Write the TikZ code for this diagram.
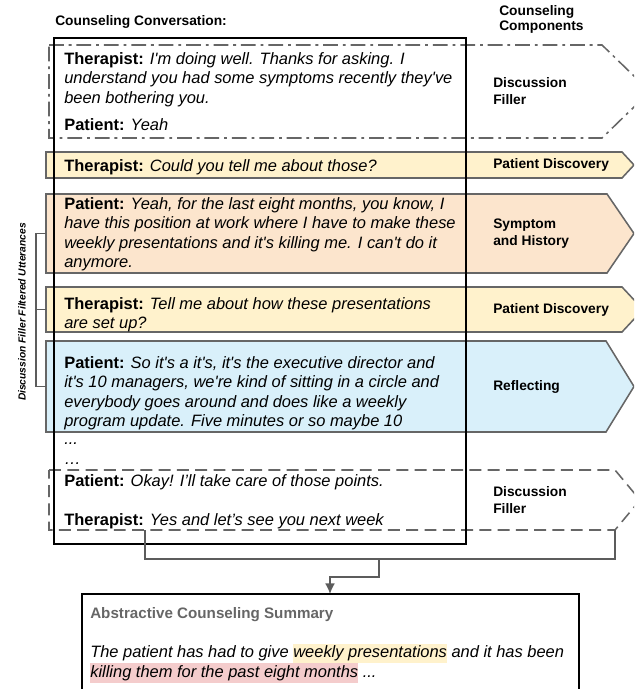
\documentclass[tikz,border=0pt]{standalone}
\usepackage{fontspec}
\newfontfamily\lsans{Liberation Sans}
\usetikzlibrary{arrows.meta}
\definecolor{linegray}{HTML}{666666}
\definecolor{discovfill}{HTML}{FFF2CC}
\definecolor{sympfill}{HTML}{FCE5CD}
\definecolor{reflfill}{HTML}{D9F0FA}
\definecolor{hlpink}{HTML}{F4CCCC}
\newcommand\uttfont{\lsans\itshape\fontsize{11.7}{13.9}\selectfont}
\newcommand\compfont{\lsans\bfseries\fontsize{9.8}{12}\selectfont}
\newcommand\therap{\textup{\textbf{Therapist:}}}
\newcommand\patient{\textup{\textbf{Patient:}}}
\newcommand\hlword[2]{{\fboxsep=0pt\colorbox{#1}{\strut #2}}}
\tikzset{
  seg/.style={draw=linegray, line width=1.1pt},
  filler/.style={seg, dash pattern=on 10.5pt off 3.5pt on 2pt off 3.5pt},
  fillerend/.style={seg, dash pattern=on 8.5pt off 4.5pt},
  discov/.style={seg, fill=discovfill},
  symp/.style={seg, fill=sympfill},
  refl/.style={seg, fill=reflfill},
  utt/.style={anchor=north west, inner sep=0pt, align=left, font=\uttfont},
  comp/.style={anchor=west, inner sep=0pt, align=left, font=\compfont},
  head/.style={anchor=west, inner sep=0pt, align=left, font=\lsans\bfseries\fontsize{9.8}{10.7}\selectfont},
  box/.style={draw=black, line width=1.4pt},
  connect/.style={draw=linegray!90!black, line width=1.1pt}
}

\begin{document}
\begin{tikzpicture}[x=0.025cm, y=-0.025cm]
  \useasboundingbox (0,0) rectangle (634,689);
  \clip (0,0) rectangle (634,689);
  % one component shape per segment
  \foreach \nm/\lft/\yt/\yb/\cx/\tip/\sty/\lab in {
      fa/49/45/138/602/650/filler/{Discussion\\Filler},
      pd1/46/152/178/622/634/discov/{Patient Discovery},
      sh/46/194/273/607/634/symp/{Symptom\\and History},
      pd2/46/287/332/622/643/discov/{Patient Discovery},
      rf/46/341/432/606/634/refl/{Reflecting},
      fb/49/470/530/615/640/fillerend/{Discussion\\Filler}} {
    \draw[\sty] (\lft,\yt) -- (\cx,\yt) -- (\tip,{(\yt+\yb)/2}) -- (\cx,\yb) -- (\lft,\yb) -- cycle;
    \coordinate (\nm-w) at (\lft,{(\yt+\yb)/2});
    \coordinate (\nm-se) at (\cx,\yb);
    \node[comp] (\nm-lab) at (493,{(\yt+\yb)/2}) {\lab};
  }
  \node[head] (conv) at (55,22) {Counseling Conversation:};
  \node[head] (compo) at (499,19.5) {Counseling\\Components};
  % utterances
  \node[utt] (u1) at (64,52) {\therap{} I'm doing well. Thanks for asking. I\\understand you had some symptoms recently they've\\been bothering you.};
  \node[utt] (u2) at (64,118) {\patient{} Yeah};
  \node[utt] (u3) at (64,159) {\therap{} Could you tell me about those?};
  \node[utt] (u4) at (64,197) {\patient{} Yeah, for the last eight months, you know, I\\have this position at work where I have to make these\\weekly presentations and it's killing me. I can't do it\\anymore.};
  \node[utt] (u5) at (64,297) {\therap{} Tell me about how these presentations\\are set up?};
  \node[utt] (u6) at (64,356) {\patient{} So it's a it's, it's the executive director and\\it's 10 managers, we're kind of sitting in a circle and\\everybody goes around and does like a weekly\\program update. Five minutes or so maybe 10};
  \node[utt, anchor=base west] (gap1) at (64,444.5) {...};
  \node[utt, anchor=base west] (gap2) at (64,464) {…};
  \node[utt] (u7) at (64,474) {\patient{} Okay! I’ll take care of those points.\\[13.9pt]\therap{} Yes and let’s see you next week};
  \draw[box] (54,38) rectangle (466,544);
  % filtered utterances
  \node[rotate=90, inner sep=0pt, font=\lsans\bfseries\itshape\fontsize{7.3}{9}\selectfont] (filt) at (22,312) {Discussion Filler Filtered Utterances};
  \draw[connect] (sh-w) -- ++(-10,0) |- (rf-w);
  \draw[connect] (pd2-w) -- ++(-10,0);
  % to the summary
  \coordinate (cut) at (145,530);
  \coordinate (mid) at (379,559);
  \coordinate (knee) at (330,577);
  \coordinate (sumtop) at (330,594);
  \draw[connect] (cut) |- (mid) -| (fb-se);
  \draw[connect, -{Latex[length=7.5pt,width=7pt]}] (mid) |- (knee) -- (sumtop);
  \draw[box] (82,594) rectangle (579,700);
  \node[anchor=west, inner sep=0pt, text=linegray, font=\lsans\bfseries\fontsize{10.8}{13}\selectfont] (sumhead) at (90,615) {Abstractive Counseling Summary};
  \node[utt] (sumtext) at (90,643.6) {The patient has had to give \hlword{discovfill}{weekly presentations} and it has been\\\hlword{hlpink}{killing them for the past eight months} ...};
\end{tikzpicture}
\end{document}
